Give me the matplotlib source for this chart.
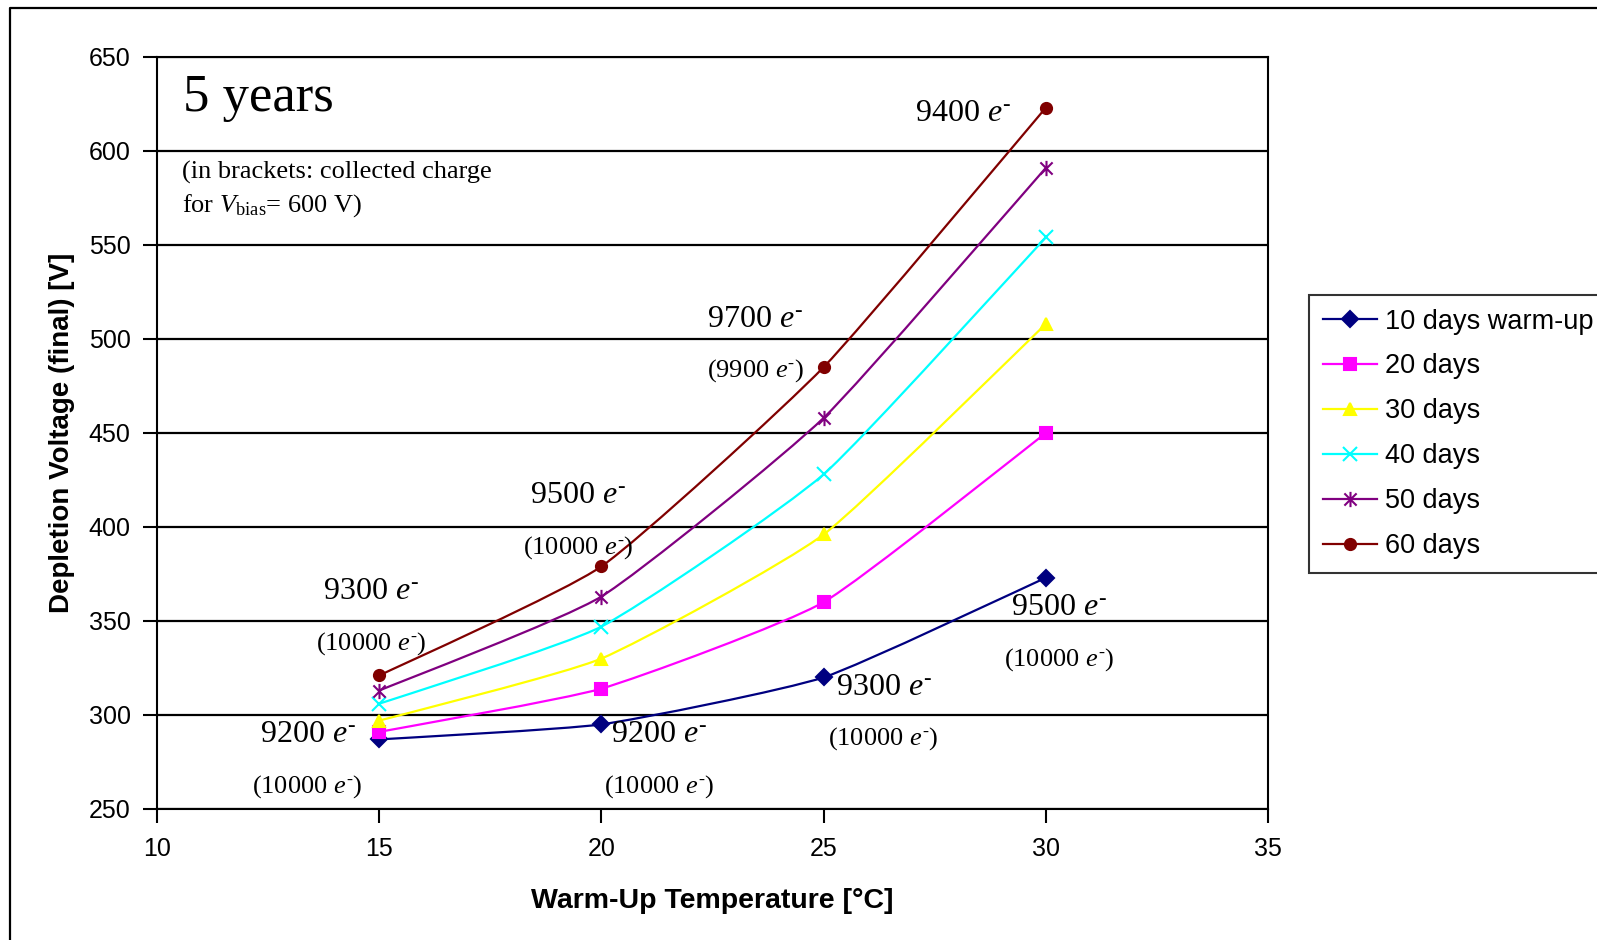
import matplotlib.pyplot as plt
from matplotlib.path import Path
from matplotlib.patches import PathPatch
from matplotlib.lines import Line2D

# Warm-up temperatures [°C]
temps = [15, 20, 25, 30]

# Final depletion voltage [V] for each warm-up duration
days_10 = [287, 295, 320, 373]
days_20 = [291, 314, 360, 450]
days_30 = [297, 330, 396, 508]
days_40 = [306, 347, 428, 554]
days_50 = [313, 363, 458, 591]
days_60 = [321, 379, 485, 623]

series = [days_10, days_20, days_30, days_40, days_50, days_60]
labels = ['10 days warm-up', '20 days', '30 days', '40 days', '50 days', '60 days']
colors = ['#000080', '#FF00FF', '#FFFF00', '#00FFFF', '#800080', '#800000']

# collected charge annotations (value, x, y)
charge_big = [('9300', 14.81, 365.8), ('9500', 19.48, 416.7), ('9700', 23.46, 510.4),
              ('9400', 28.13, 620.0), ('9200', 13.39, 289.5), ('9200', 21.29, 289.5),
              ('9300', 26.35, 314.4), ('9500', 30.31, 357.2)]
charge_small = [('10000', 14.81, 338.2), ('10000', 19.48, 389.1), ('9900', 23.46, 483.3),
                ('10000', 13.39, 261.9), ('10000', 21.29, 261.9), ('10000', 26.35, 287.3),
                ('10000', 30.31, 329.6)]

plt.rcParams['font.family'] = ['Liberation Sans', 'DejaVu Sans']
plt.rcParams['mathtext.fontset'] = 'custom'
plt.rcParams['mathtext.rm'] = 'Liberation Serif'
plt.rcParams['mathtext.it'] = 'Liberation Serif:italic'

SERIF = ['Liberation Serif', 'DejaVu Serif']

# spreadsheet-style star marker: an x with a vertical bar through it
star = Path([(0, -1), (0, 1), (-0.8, -0.8), (0.8, 0.8), (-0.8, 0.8), (0.8, -0.8)],
            [Path.MOVETO, Path.LINETO] * 3)
markers = ['D', 's', '^', 'x', star, 'o']
msizes = [8, 8, 9, 10, 11, 8]


# mildly smoothed line through the points (Bezier, low tension)
def smooth_path(xs, ys, k=1 / 12):
    pts = list(zip(xs, ys))
    n = len(pts)
    verts = [pts[0]]
    codes = [Path.MOVETO]
    for i in range(n - 1):
        p0 = pts[i - 1] if i > 0 else pts[i]
        p1 = pts[i]
        p2 = pts[i + 1]
        p3 = pts[i + 2] if i + 2 < n else pts[i + 1]
        c1 = (p1[0] + (p2[0] - p0[0]) * k, p1[1] + (p2[1] - p0[1]) * k)
        c2 = (p2[0] - (p3[0] - p1[0]) * k, p2[1] - (p3[1] - p1[1]) * k)
        verts += [c1, c2, p2]
        codes += [Path.CURVE4] * 3
    return Path(verts, codes)


fig = plt.figure(figsize=(15.97, 9.40), dpi=100)
ax = fig.add_axes([0.0983, 0.1394, 0.6957, 0.8000])

handles = []
for i, ys in enumerate(series):
    patch = PathPatch(smooth_path(temps, ys), facecolor='none', edgecolor=colors[i],
                      lw=1.6, zorder=3 + i)
    ax.add_patch(patch)
    ax.plot(temps, ys, linestyle='none', marker=markers[i], color=colors[i],
            markersize=msizes[i], markeredgewidth=1.5, zorder=3.5 + i)
    handles.append(Line2D([], [], color=colors[i], lw=1.6, marker=markers[i],
                          markersize=msizes[i], markeredgewidth=1.5))

ax.set_xlim(10, 35)
ax.set_ylim(250, 650)
ax.set_xticks([10, 15, 20, 25, 30, 35])
ax.set_yticks(range(250, 651, 50))
ax.yaxis.grid(True, color='black', lw=1.6)
ax.set_axisbelow(True)
for s in ax.spines.values():
    s.set_linewidth(1.5)
ax.tick_params(axis='both', direction='out', length=10, width=1.5, labelsize=18)
ax.tick_params(axis='x', pad=10)
ax.tick_params(axis='y', pad=9)

ax.set_xlabel('Warm-Up Temperature [°C]', fontsize=20.5, fontweight='bold')
ax.set_ylabel('Depletion Voltage (final) [V]', fontsize=20, fontweight='bold')
ax.xaxis.set_label_coords(0.5, -0.105)
ax.yaxis.set_label_coords(-0.074, 0.5)

for val, x, y in charge_big:
    ax.text(x, y, val + r' $e^{\text{-}}$', fontsize=23, family=SERIF,
            ha='center', va='center', zorder=10)
for val, x, y in charge_small:
    ax.text(x, y, '(' + val + r' $e^{\text{-}}$)', fontsize=19, family=SERIF,
            ha='center', va='center', zorder=10)

ax.text(0.0234, 0.945, '5 years', fontsize=38, family=SERIF,
        transform=ax.transAxes, ha='left', va='center')
ax.text(0.0225, 0.846, '(in brackets: collected charge', fontsize=19, family=SERIF,
        transform=ax.transAxes, ha='left', va='center')
ax.text(0.0225, 0.803, r'for $V_{\mathrm{bias}}$= 600 V)', fontsize=19, family=SERIF,
        transform=ax.transAxes, ha='left', va='center')

leg = fig.legend(handles, labels, loc='upper left', bbox_to_anchor=(0.8197, 0.6862),
                 bbox_transform=fig.transFigure, fontsize=19.5, frameon=True,
                 fancybox=False, shadow=False, borderaxespad=0, borderpad=0.5,
                 handlelength=2.0, handletextpad=0.3, labelspacing=0.7)
leg.get_frame().set_edgecolor('black')
leg.get_frame().set_linewidth(1.5)

# outer chart-area border (left and top edges visible)
fig.add_artist(Line2D([10 / 1597, 10 / 1597, 1.0], [0.0, 1 - 8 / 940, 1 - 8 / 940],
                      transform=fig.transFigure, color='black', lw=1.6))

fig.savefig('out.png', dpi=100)
